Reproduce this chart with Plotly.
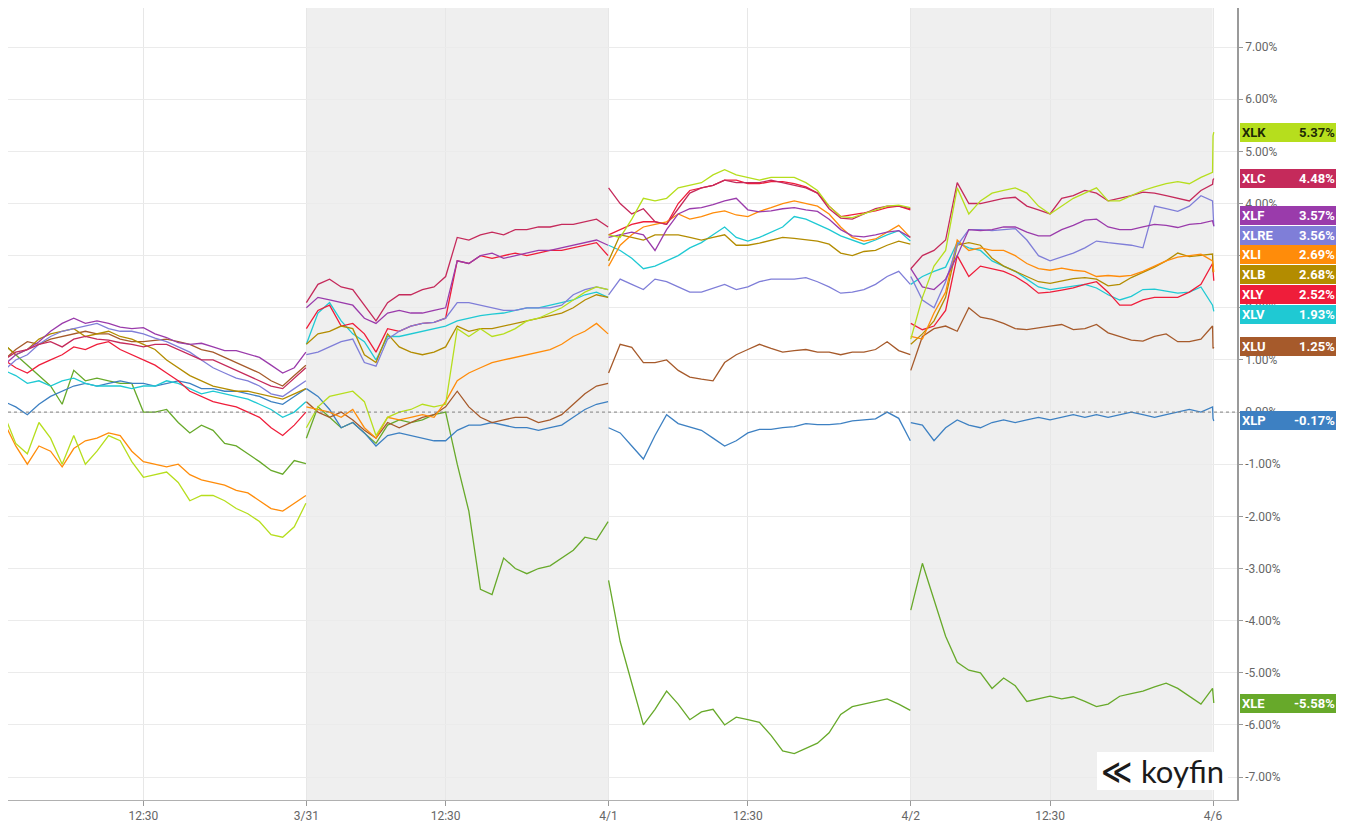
import pandas as pd
import plotly.graph_objects as go

# ---------------- data (percent change, 15-minute samples 09:30..16:00) ----------------
DAYS = ["2026-03-30", "2026-03-31", "2026-04-01", "2026-04-02"]
NEXT_OPEN_TIMES = ["2026-04-06 09:30", "2026-04-06 09:31"]

TICKERS = ["XLK", "XLC", "XLF", "XLRE", "XLI", "XLB", "XLY", "XLV", "XLU", "XLP", "XLE"]
COLORS = ["#b6de1d", "#c52a5b", "#9a3bab", "#7f7ed8", "#ff8c0a", "#b38c00",
          "#ef1d3a", "#1fc9d3", "#a65a2b", "#3d80c2", "#67a92a"]
LABEL_FONT = ["#1e2a05", "white", "white", "white", "white", "white",
              "white", "white", "white", "white", "white"]

XLK = [
    [-0.05, -0.6, -0.8, -0.2, -0.5, -1.0, -0.45, -1.0, -0.75, -0.45, -0.55, -0.95, -1.25, -1.2,
     -1.15, -1.35, -1.7, -1.6, -1.6, -1.7, -1.85, -1.95, -2.1, -2.35, -2.4, -2.2, -1.75],
    [-0.3, 0.1, 0.3, 0.35, 0.4, 0.2, -0.45, -0.1, 0.0, 0.05, 0.15, 0.1, 0.15, 1.6,
     1.45, 1.6, 1.45, 1.5, 1.6, 1.75, 1.8, 1.9, 2.0, 2.15, 2.3, 2.4, 2.35],
    [3.4, 3.35, 3.7, 4.1, 4.05, 4.1, 4.3, 4.35, 4.4, 4.55, 4.65, 4.55, 4.5, 4.45,
     4.5, 4.5, 4.5, 4.4, 4.25, 3.95, 3.75, 3.73, 3.8, 3.88, 3.95, 3.97, 3.92],
    [1.4, 2.2, 2.8, 3.1, 4.3, 3.8, 4.05, 4.2, 4.25, 4.3, 4.2, 3.95, 3.8, 3.95,
     4.1, 4.2, 4.3, 4.05, 4.05, 4.15, 4.25, 4.32, 4.38, 4.42, 4.38, 4.5, 4.6],
    [5.30, 5.37],
]
XLC = [
    [1.0, 1.15, 1.2, 1.3, 1.35, 1.25, 1.4, 1.45, 1.4, 1.38, 1.33, 1.3, 1.25, 1.3,
     1.3, 1.2, 1.1, 1.0, 1.0, 0.9, 0.8, 0.7, 0.6, 0.5, 0.45, 0.65, 0.85],
    [2.1, 2.45, 2.55, 2.4, 2.35, 2.05, 1.75, 2.1, 2.25, 2.25, 2.35, 2.4, 2.6, 3.35,
     3.3, 3.4, 3.45, 3.4, 3.5, 3.5, 3.55, 3.55, 3.6, 3.6, 3.65, 3.7, 3.55],
    [4.3, 4.0, 3.8, 3.9, 3.65, 3.6, 3.9, 4.2, 4.3, 4.35, 4.45, 4.4, 4.4, 4.4,
     4.45, 4.4, 4.35, 4.3, 4.2, 3.9, 3.72, 3.7, 3.8, 3.9, 3.95, 3.95, 3.9],
    [2.75, 3.0, 3.1, 3.3, 4.4, 4.0, 4.0, 4.05, 4.1, 4.12, 3.95, 3.88, 3.8, 4.1,
     4.15, 4.25, 4.2, 4.05, 4.1, 4.15, 4.22, 4.2, 4.15, 4.1, 4.05, 4.25, 4.37],
    [4.45, 4.48],
]
XLF = [
    [0.9, 1.1, 1.2, 1.35, 1.55, 1.7, 1.8, 1.7, 1.75, 1.7, 1.63, 1.6, 1.62, 1.5,
     1.43, 1.33, 1.3, 1.32, 1.25, 1.18, 1.18, 1.12, 1.05, 0.9, 0.75, 0.85, 1.15],
    [2.0, 2.2, 2.15, 2.1, 2.05, 1.8, 1.7, 1.9, 1.95, 1.9, 1.9, 1.95, 2.0, 2.9,
     2.85, 3.0, 3.05, 2.95, 3.0, 3.05, 3.1, 3.1, 3.15, 3.2, 3.25, 3.3, 3.2],
    [3.35, 3.4, 3.45, 3.4, 3.1, 3.5, 3.8, 3.9, 3.92, 3.98, 4.05, 4.1, 3.88, 3.84,
     3.86, 3.9, 3.92, 3.88, 3.85, 3.7, 3.5, 3.38, 3.36, 3.4, 3.45, 3.48, 3.35],
    [2.75, 2.4, 2.35, 2.55, 3.0, 3.5, 3.48, 3.5, 3.55, 3.55, 3.45, 3.38, 3.38, 3.5,
     3.58, 3.68, 3.7, 3.55, 3.5, 3.5, 3.55, 3.6, 3.58, 3.54, 3.6, 3.62, 3.67],
    [3.60, 3.57],
]
XLRE = [
    [0.8, 1.0, 1.1, 1.3, 1.45, 1.55, 1.6, 1.65, 1.7, 1.6, 1.55, 1.55, 1.5, 1.42,
     1.35, 1.25, 1.15, 1.0, 0.85, 0.75, 0.65, 0.6, 0.5, 0.35, 0.3, 0.45, 0.6],
    [1.1, 1.15, 1.25, 1.35, 1.4, 0.95, 0.88, 1.4, 1.55, 1.65, 1.7, 1.72, 1.8, 2.1,
     2.1, 2.05, 2.0, 1.95, 1.95, 2.0, 2.0, 2.0, 2.05, 2.25, 2.35, 2.4, 2.35],
    [2.25, 2.55, 2.45, 2.35, 2.55, 2.5, 2.4, 2.3, 2.3, 2.38, 2.45, 2.35, 2.4, 2.5,
     2.55, 2.55, 2.55, 2.58, 2.5, 2.4, 2.28, 2.3, 2.35, 2.45, 2.6, 2.7, 2.45],
    [2.6, 2.15, 2.0, 2.5, 3.2, 3.5, 3.5, 3.48, 3.5, 3.52, 3.3, 3.0, 2.9, 2.97,
     3.05, 3.15, 3.28, 3.25, 3.22, 3.2, 3.15, 3.95, 3.9, 3.85, 3.95, 4.15, 4.05],
    [3.60, 3.56],
]
XLI = [
    [-0.2, -0.65, -1.0, -0.65, -0.75, -1.05, -0.7, -0.55, -0.5, -0.4, -0.45, -0.75, -0.95, -1.0,
     -1.05, -1.0, -1.2, -1.3, -1.35, -1.4, -1.5, -1.55, -1.7, -1.85, -1.9, -1.75, -1.6],
    [0.1, 0.05, 0.0, -0.1, 0.05, -0.3, -0.5, -0.1, -0.15, -0.1, -0.05, -0.1, 0.2, 0.6,
     0.75, 0.85, 0.95, 1.0, 1.05, 1.1, 1.15, 1.2, 1.3, 1.45, 1.55, 1.7, 1.5],
    [2.8, 3.2, 3.4, 3.55, 3.6, 3.65, 3.8, 3.7, 3.75, 3.82, 3.86, 3.78, 3.75, 3.85,
     3.92, 4.0, 4.05, 4.0, 3.95, 3.8, 3.55, 3.35, 3.28, 3.32, 3.45, 3.58, 3.35],
    [1.45, 1.4, 1.9, 2.3, 3.3, 3.1, 3.15, 3.1, 3.1, 3.0, 2.85, 2.75, 2.72, 2.76,
     2.72, 2.7, 2.6, 2.62, 2.6, 2.62, 2.7, 2.8, 2.9, 2.97, 3.0, 3.03, 2.9],
    [2.72, 2.69],
]
XLB = [
    [1.3, 1.1, 1.2, 1.4, 1.5, 1.55, 1.6, 1.45, 1.5, 1.55, 1.45, 1.4, 1.3, 1.2,
     1.0, 0.85, 0.7, 0.6, 0.5, 0.45, 0.4, 0.4, 0.35, 0.3, 0.25, 0.35, 0.45],
    [1.3, 1.5, 1.55, 1.65, 1.6, 1.1, 0.95, 1.5, 1.25, 1.15, 1.1, 1.15, 1.25, 1.65,
     1.55, 1.6, 1.6, 1.65, 1.7, 1.75, 1.8, 1.85, 1.9, 2.0, 2.15, 2.25, 2.2],
    [2.9, 3.4, 3.35, 3.3, 3.4, 3.4, 3.4, 3.35, 3.3, 3.35, 3.4, 3.2, 3.2, 3.24,
     3.3, 3.35, 3.33, 3.3, 3.28, 3.22, 3.05, 3.0, 3.08, 3.1, 3.2, 3.28, 3.22],
    [1.3, 1.5, 1.75, 2.2, 3.2, 3.25, 3.2, 2.95, 2.8, 2.7, 2.6, 2.5, 2.47, 2.52,
     2.56, 2.58, 2.55, 2.42, 2.45, 2.58, 2.68, 2.78, 2.9, 3.05, 2.98, 3.0, 3.03],
    [2.70, 2.68],
]
XLY = [
    [1.0, 0.85, 0.75, 0.9, 1.0, 1.1, 1.25, 1.2, 1.3, 1.35, 1.2, 1.1, 1.0, 0.9,
     0.75, 0.6, 0.4, 0.3, 0.2, 0.15, 0.1, 0.0, -0.1, -0.3, -0.45, -0.25, 0.0],
    [1.6, 1.95, 2.05, 1.65, 1.7, 1.5, 1.15, 1.6, 1.55, 1.65, 1.7, 1.72, 1.8, 2.9,
     2.85, 3.0, 2.95, 3.0, 3.05, 3.0, 3.05, 3.1, 3.1, 3.15, 3.2, 3.25, 3.0],
    [3.4, 3.5, 3.6, 3.65, 3.65, 3.6, 4.0, 4.25, 4.3, 4.35, 4.45, 4.45, 4.38, 4.38,
     4.42, 4.42, 4.38, 4.32, 4.2, 3.95, 3.75, 3.78, 3.82, 3.86, 3.92, 3.95, 3.88],
    [1.7, 1.58, 1.65, 1.95, 3.0, 2.6, 2.8, 2.75, 2.7, 2.6, 2.46, 2.28, 2.3, 2.34,
     2.38, 2.45, 2.5, 2.3, 2.05, 2.05, 2.15, 2.2, 2.2, 2.2, 2.3, 2.45, 2.85],
    [2.55, 2.52],
]
XLV = [
    [0.8, 0.7, 0.55, 0.6, 0.5, 0.6, 0.65, 0.55, 0.5, 0.5, 0.5, 0.45, 0.5, 0.5,
     0.6, 0.55, 0.45, 0.35, 0.4, 0.35, 0.3, 0.25, 0.15, 0.05, -0.1, 0.0, 0.2],
    [1.3, 1.9, 2.1, 1.75, 1.5, 1.35, 1.0, 1.45, 1.45, 1.5, 1.55, 1.6, 1.65, 1.75,
     1.8, 1.85, 1.88, 1.9, 1.95, 2.0, 2.0, 2.05, 2.1, 2.15, 2.25, 2.3, 2.2],
    [3.2, 3.1, 2.95, 2.75, 2.8, 2.9, 3.0, 3.15, 3.25, 3.4, 3.55, 3.35, 3.28, 3.35,
     3.45, 3.55, 3.75, 3.7, 3.6, 3.5, 3.38, 3.3, 3.22, 3.3, 3.4, 3.48, 3.28],
    [2.45, 2.6, 2.7, 2.78, 3.25, 3.15, 3.1, 2.9, 2.8, 2.7, 2.55, 2.4, 2.35, 2.38,
     2.42, 2.45, 2.38, 2.25, 2.15, 2.22, 2.35, 2.36, 2.32, 2.28, 2.3, 2.4, 2.05],
    [1.95, 1.93],
]
XLU = [
    [1.0, 1.2, 1.35, 1.3, 1.4, 1.45, 1.5, 1.55, 1.5, 1.5, 1.4, 1.35, 1.35, 1.38,
     1.4, 1.35, 1.3, 1.2, 1.15, 1.05, 0.95, 0.85, 0.75, 0.6, 0.5, 0.7, 0.9],
    [0.2, 0.0, -0.1, 0.0, -0.15, -0.35, -0.5, -0.2, -0.3, -0.2, -0.1, -0.05, 0.1, 0.4,
     0.1, -0.1, -0.2, -0.15, -0.1, -0.1, -0.2, -0.15, -0.05, 0.15, 0.35, 0.5, 0.55],
    [0.75, 1.3, 1.24, 0.95, 0.95, 1.0, 0.8, 0.67, 0.63, 0.6, 0.95, 1.1, 1.2, 1.3,
     1.22, 1.15, 1.18, 1.2, 1.15, 1.15, 1.1, 1.15, 1.15, 1.2, 1.35, 1.18, 1.1],
    [0.8, 1.45, 1.6, 1.65, 1.55, 2.0, 1.82, 1.78, 1.7, 1.6, 1.58, 1.62, 1.65, 1.68,
     1.58, 1.6, 1.68, 1.52, 1.45, 1.38, 1.36, 1.45, 1.5, 1.35, 1.35, 1.4, 1.65],
    [1.22, 1.25],
]
XLP = [
    [0.2, 0.1, -0.05, 0.15, 0.3, 0.4, 0.5, 0.55, 0.5, 0.55, 0.6, 0.55, 0.55, 0.5,
     0.55, 0.6, 0.55, 0.45, 0.45, 0.4, 0.4, 0.35, 0.3, 0.2, 0.15, 0.3, 0.45],
    [0.45, 0.3, 0.05, -0.3, -0.2, -0.4, -0.65, -0.45, -0.4, -0.45, -0.5, -0.55, -0.55, -0.35,
     -0.25, -0.25, -0.2, -0.25, -0.3, -0.3, -0.35, -0.3, -0.25, -0.1, 0.05, 0.15, 0.2],
    [-0.3, -0.4, -0.65, -0.9, -0.45, -0.05, -0.22, -0.29, -0.35, -0.5, -0.65, -0.55, -0.4, -0.33,
     -0.33, -0.3, -0.28, -0.22, -0.24, -0.24, -0.22, -0.17, -0.15, -0.13, 0.0, -0.12, -0.55],
    [-0.2, -0.25, -0.55, -0.3, -0.15, -0.25, -0.3, -0.2, -0.15, -0.2, -0.15, -0.1, -0.15, -0.1,
     -0.05, -0.1, -0.05, -0.1, -0.05, 0.0, -0.05, -0.1, -0.05, 0.0, 0.05, 0.0, 0.1],
    [-0.12, -0.17],
]
XLE = [
    [1.3, 1.1, 0.9, 0.7, 0.5, 0.15, 0.8, 0.6, 0.65, 0.6, 0.55, 0.55, 0.0, 0.0,
     0.05, -0.2, -0.4, -0.25, -0.35, -0.6, -0.65, -0.8, -0.95, -1.12, -1.19, -0.93, -0.99],
    [-0.5, 0.1, -0.1, -0.3, -0.2, -0.4, -0.6, -0.25, -0.15, -0.2, -0.15, -0.05, 0.0, -1.0,
     -1.9, -3.4, -3.5, -2.8, -3.0, -3.1, -3.0, -2.95, -2.8, -2.65, -2.4, -2.45, -2.1],
    [-3.23, -4.4, -5.2, -6.0, -5.7, -5.35, -5.6, -5.9, -5.75, -5.7, -6.0, -5.85, -5.9, -5.95,
     -6.2, -6.5, -6.55, -6.45, -6.35, -6.15, -5.8, -5.65, -5.6, -5.55, -5.5, -5.6, -5.72],
    [-3.8, -2.9, -3.6, -4.3, -4.8, -4.95, -5.0, -5.3, -5.1, -5.25, -5.55, -5.5, -5.45, -5.5,
     -5.46, -5.55, -5.65, -5.6, -5.45, -5.4, -5.35, -5.27, -5.2, -5.3, -5.45, -5.6, -5.3],
    [-5.55, -5.58],
]
SERIES = [XLK, XLC, XLF, XLRE, XLI, XLB, XLY, XLV, XLU, XLP, XLE]

TICK_TIMES = ["2026-03-30 12:30", "2026-03-31 09:30", "2026-03-31 12:30", "2026-04-01 09:30",
              "2026-04-01 12:30", "2026-04-02 09:30", "2026-04-02 12:30", "2026-04-06 09:30"]
TICK_TEXT = ["12:30", "3/31", "12:30", "4/1", "12:30", "4/2", "12:30", "4/6"]
Y_TICKS = list(range(-7, 8))
SHADED_DAYS = ["2026-03-31", "2026-04-02"]

# ---------------- build ----------------
slots = [pd.date_range(f"{d} 09:30", f"{d} 16:00", freq="15min") for d in DAYS]


def build(series):
    xs, ys = [], []
    for i, d in enumerate(DAYS):
        xs += list(slots[i])
        ys += list(series[i])
        if i < len(DAYS) - 1:
            xs.append(pd.Timestamp(f"{d} 18:00"))
            ys.append(None)
    xs += list(pd.to_datetime(NEXT_OPEN_TIMES))
    ys += list(series[4])
    return xs, ys


fig = go.Figure()
for name, ser, col in reversed(list(zip(TICKERS, SERIES, COLORS))):
    xs, ys = build(ser)
    fig.add_trace(go.Scatter(x=xs, y=ys, mode="lines", name=name, connectgaps=False,
                             line=dict(color=col, width=1.3), hoverinfo="skip"))

# shaded alternating sessions
for d in SHADED_DAYS:
    fig.add_shape(type="rect", xref="x", yref="paper", x0=f"{d} 09:30", x1=f"{d} 16:00",
                  y0=0, y1=1, fillcolor="#efefef", line=dict(width=0), layer="below")

# zero reference line
fig.add_shape(type="line", xref="paper", yref="y", x0=0, x1=1, y0=0, y1=0,
              line=dict(color="#808080", width=1, dash="dot"), layer="above")

# right-side value labels, de-overlapped
finals = [s[4][-1] for s in SERIES]
order = sorted(range(len(finals)), key=lambda i: -finals[i])
pos = [finals[i] for i in order]
gap = 0.38
for _ in range(800):
    for j in range(len(pos) - 1):
        dd = pos[j] - pos[j + 1]
        if dd < gap:
            s = (gap - dd) / 2
            pos[j] += s
            pos[j + 1] -= s
label_y = {order[k]: pos[k] for k in range(len(order))}

for i, t in enumerate(TICKERS):
    y = label_y[i]
    fig.add_annotation(xref="paper", yref="y", x=1, y=y, xanchor="left", yanchor="middle",
                       xshift=3, text=f"<b>{t}</b>", align="left", width=92, height=15,
                       bgcolor=COLORS[i], borderpad=2, borderwidth=0, showarrow=False,
                       font=dict(family="Roboto, Arial", size=13, color=LABEL_FONT[i]))
    fig.add_annotation(xref="paper", yref="y", x=1, y=y, xanchor="right", yanchor="middle",
                       xshift=99, text=f"<b>{finals[i]:.2f}%</b>", showarrow=False,
                       borderpad=0, font=dict(family="Roboto, Arial", size=13, color=LABEL_FONT[i]))

# koyfin watermark
fig.add_shape(type="rect", xref="paper", yref="paper", x0=0.8861, x1=0.9927, y0=0.0126, y1=0.0605,
              fillcolor="white", line=dict(width=0), layer="above")
fig.add_annotation(xref="paper", yref="paper", x=0.9927, y=0.036, xanchor="right", yanchor="middle",
                   xshift=-2, text="koyfin", showarrow=False,
                   font=dict(family="Lato, Inter, sans-serif", size=31, color="#1b1b1b"))
fig.add_annotation(xref="paper", yref="paper", x=0.8861, y=0.036, xanchor="left", yanchor="middle",
                   xshift=2, text="<b>≪</b>", showarrow=False,
                   font=dict(family="DejaVu Sans", size=30, color="#1b1b1b"))

# page body adds an 8px offset; size the figure so it fits the 1345x825 window
fig.update_layout(
    width=1337, height=817,
    margin=dict(l=0, r=108, t=0, b=25),
    paper_bgcolor="white", plot_bgcolor="white",
    showlegend=False,
    font=dict(family="Roboto, Arial, sans-serif", size=12, color="#666666"),
)
fig.update_xaxes(
    type="date",
    range=["2026-03-30 09:35", "2026-04-06 10:01"],
    rangebreaks=[dict(bounds=["sat", "mon"]),
                 dict(values=["2026-04-03"]),
                 dict(bounds=[16.01, 9.5], pattern="hour")],
    tickmode="array", tickvals=TICK_TIMES, ticktext=TICK_TEXT,
    showgrid=True, gridcolor="#e7e7e7", gridwidth=1,
    showline=True, linecolor="#b0b0b0", linewidth=1, mirror=True,
    ticks="outside", ticklen=5, tickcolor="#999999",
    tickfont=dict(size=12, color="#666666"), zeroline=False,
)
fig.update_yaxes(
    side="right", range=[-7.44, 7.75],
    tickmode="array", tickvals=Y_TICKS, ticktext=[f"{v:.2f}%" for v in Y_TICKS],
    showgrid=True, gridcolor="#ebebeb", gridwidth=1,
    showline=True, linecolor="#9a9a9a", linewidth=1.5,
    ticks="outside", ticklen=4, tickcolor="#999999",
    tickfont=dict(size=12, color="#666666"), zeroline=False,
)

fig.write_html("out.html")
